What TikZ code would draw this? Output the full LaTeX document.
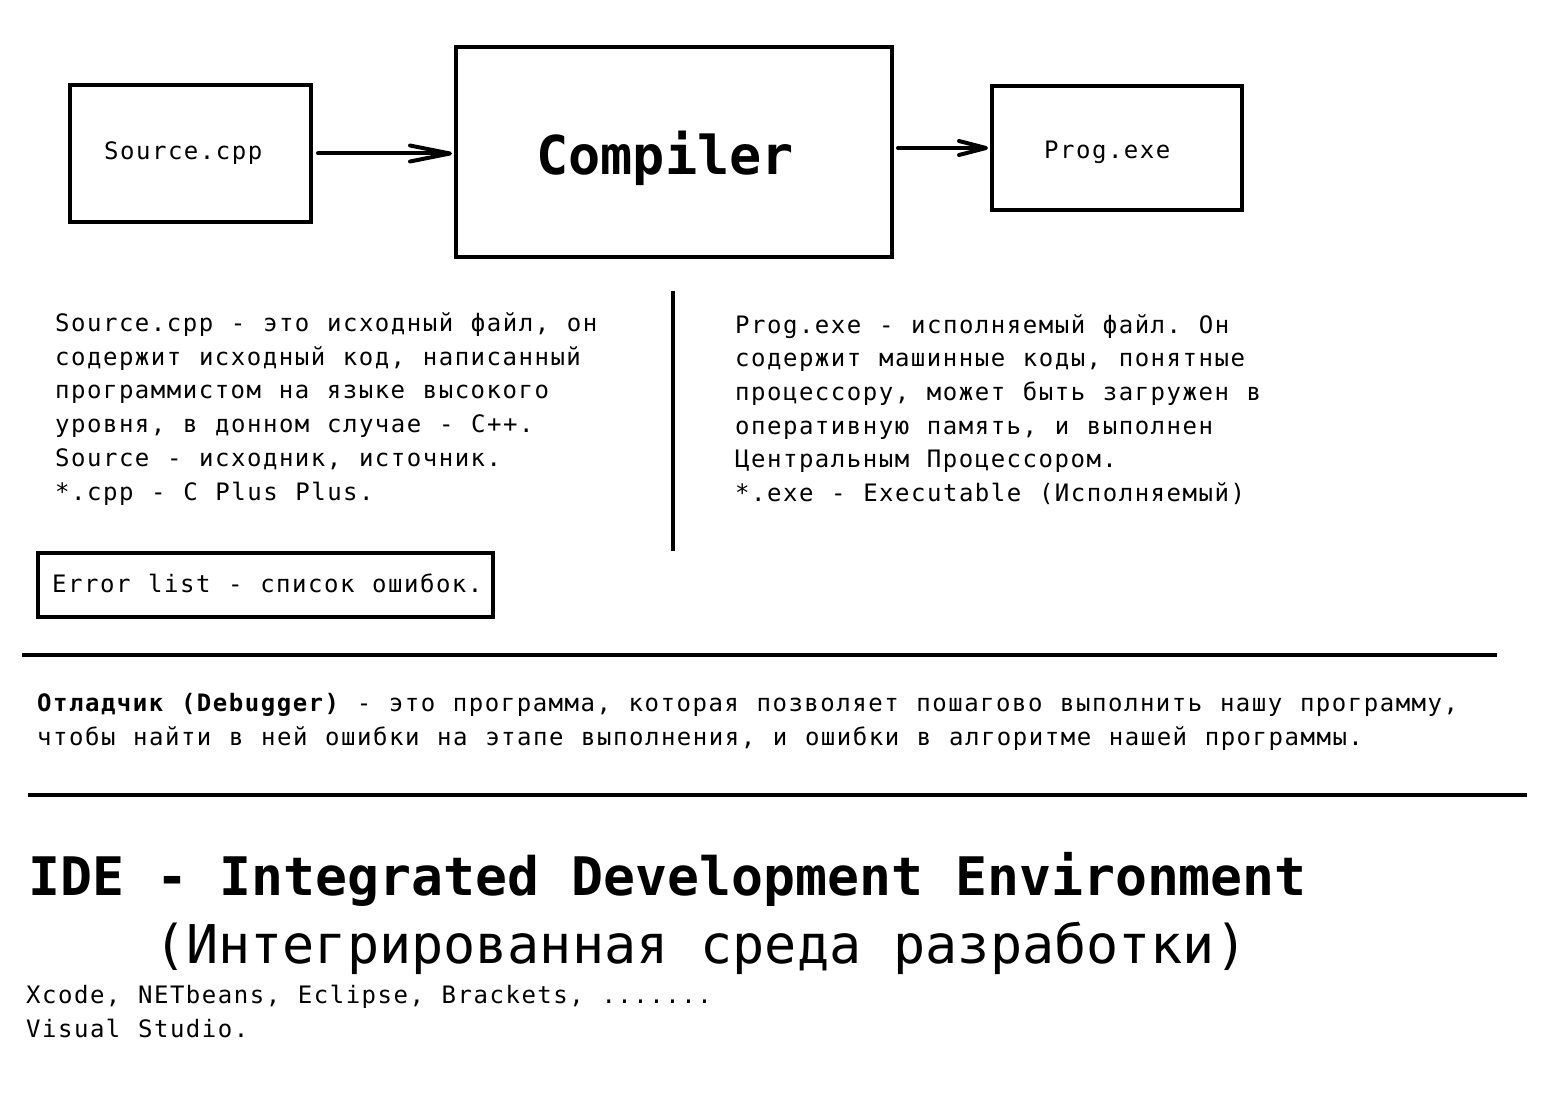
\documentclass[tikz,border=0pt]{standalone}
\usepackage{fontspec}
\setmainfont{DejaVu Sans Mono}
\newfontfamily\bodyfont[LetterSpace=6.3,WordSpace=1.107]{DejaVu Sans Mono}
\newfontfamily\bigfont{DejaVu Sans Mono}
\usetikzlibrary{arrows.meta}
\frenchspacing
\begin{document}
\begin{tikzpicture}[x=1pt,y=-1pt,
  box/.style={draw, line width=4pt, inner sep=0pt},
  body/.style={font=\bodyfont\fontsize{24}{33.7}\selectfont, inner sep=0pt, align=left, anchor=base west},
  bigtext/.style={font=\bigfont\fontsize{53.4}{60}\selectfont, inner sep=0pt, anchor=base west},
  arrA/.style={line width=4pt, line cap=round, -{Straight Barb[length=40pt,width=16pt,round]}},
  arrB/.style={line width=4pt, line cap=round, -{Straight Barb[length=27pt,width=14pt,round]}},
  rule/.style={line width=4pt}]
\useasboundingbox (0,0) rectangle (1562,1102);
% boxes
\node[box, minimum width=241pt, minimum height=137pt] (src) at (190.5,153.5) {};
\node[box, minimum width=436pt, minimum height=210pt] (comp) at (674,152) {};
\node[box, minimum width=250pt, minimum height=124pt] (prog) at (1117,148) {};
\node[box, minimum width=455pt, minimum height=64pt] (err) at (265.5,585) {};
% box labels
\node[body] (srclbl) at (104,160) {Source.cpp};
\node[bigtext, font=\bigfont\bfseries\fontsize{53.5}{60}\selectfont] (complbl) at (536,175) {Compiler};
\node[body] (proglbl) at (1044,159) {Prog.exe};
\node[body] (errlbl) at (52,592) {Error list - список ошибок.};
% arrows
\draw[arrA, shorten <=5pt, shorten >=2pt] (src.east) -- (src.east -| comp.west);
\draw[arrB, shorten <=4pt, shorten >=2pt] (prog.west -| comp.east) -- (prog.west);
% separators
\draw[rule] (673,291) -- (673,551);
\draw[rule] (22,655) -- (1497,655);
\draw[rule] (28,795) -- (1527,795);
% paragraphs (base anchor = last line)
\node[body] (lefttext) at (55,500) {Source.cpp - это исходный файл, он\\
содержит исходный код, написанный\\
программистом на языке высокого\\
уровня, в донном случае - C++.\\
Source - исходник, источник.\\
*.cpp - C Plus Plus.};
\node[body] (righttext) at (735,501.5) {Prog.exe - исполняемый файл. Он\\
содержит машинные коды, понятные\\
процессору, может быть загружен в\\
оперативную память, и выполнен\\
Центральным Процессором.\\
*.exe - Executable (Исполняемый)};
\node[body] (dbg) at (37,745) {{\bfseries Отладчик (Debugger)} - это программа, которая позволяет пошагово выполнить нашу программу,\\
чтобы найти в ней ошибки на этапе выполнения, и ошибки в алгоритме нашей программы.};
% IDE
\node[bigtext, font=\bigfont\bfseries\fontsize{53.1}{60}\selectfont] (ide) at (28,895) {IDE - Integrated Development Environment};
\node[bigtext] (iderus) at (154,963) {(Интегрированная среда разработки)};
\node[body] (tools) at (26,1037) {Xcode, NETbeans, Eclipse, Brackets, .......\\
Visual Studio.};
\end{tikzpicture}
\end{document}
